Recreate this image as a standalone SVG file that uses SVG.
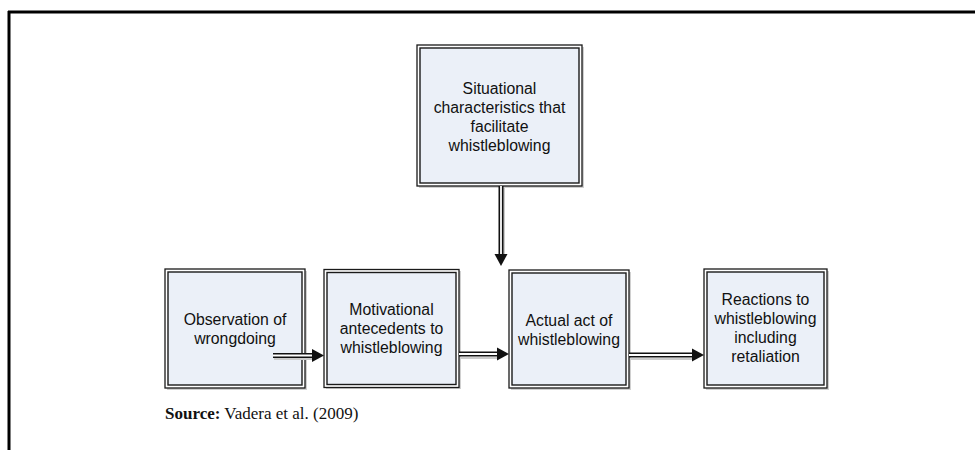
<svg xmlns="http://www.w3.org/2000/svg" width="975" height="450" viewBox="0 0 975 450">
<style>
.o{fill:#fff;stroke:#1a1a1a;stroke-width:1.3}
.i{fill:#ebf0f8;stroke:#1a1a1a;stroke-width:1.4}
.sh{fill:#d0d0d0}
.t{font-family:"Liberation Sans",Arial,sans-serif;font-size:15.8px;fill:#111;text-anchor:middle}
.dl{fill:none;stroke:#111;stroke-width:5}
.dw{fill:none;stroke:#fff;stroke-width:1.8}
.ds{fill:none;stroke:#ccc;stroke-width:2}
.ah{fill:#111}
.src{font-family:"Liberation Serif","Times New Roman",serif;font-size:17px;fill:#111}
</style>
<rect width="975" height="450" fill="#fff"/>
<g id="frame">
<line x1="8" y1="12" x2="975" y2="12" stroke="#000" stroke-width="3"/>
<line x1="9" y1="11" x2="9" y2="450" stroke="#000" stroke-width="3"/>
</g>
<g id="situational">
<rect class="sh" x="419" y="47" width="165" height="141"/>
<rect class="o" x="417" y="45" width="165" height="141"/>
<rect class="i" x="420" y="48" width="159" height="135"/>
<text class="t" x="499.5" y="93.5">Situational</text>
<text class="t" x="499.5" y="112.5">characteristics that</text>
<text class="t" x="499.5" y="131.5">facilitate</text>
<text class="t" x="499.5" y="150.5">whistleblowing</text>
</g>
<g id="observation">
<rect class="sh" x="167" y="271" width="140" height="119"/>
<rect class="o" x="165" y="269" width="140" height="119"/>
<rect class="i" x="168" y="272" width="134" height="113"/>
<text class="t" x="235" y="325">Observation of</text>
<text class="t" x="235" y="344">wrongdoing</text>
</g>
<g id="motivational">
<rect class="sh" x="326" y="271" width="135" height="118"/>
<rect class="o" x="324" y="269.5" width="135" height="118"/>
<rect class="i" x="327" y="272.5" width="129" height="112"/>
<text class="t" x="391.5" y="314.5">Motivational</text>
<text class="t" x="391.5" y="333.5">antecedents to</text>
<text class="t" x="391.5" y="352.5">whistleblowing</text>
</g>
<g id="actual">
<rect class="sh" x="511" y="272" width="120" height="118"/>
<rect class="o" x="509" y="270" width="120" height="118"/>
<rect class="i" x="512" y="273" width="114" height="112"/>
<text class="t" x="569" y="326">Actual act of</text>
<text class="t" x="569" y="345">whistleblowing</text>
</g>
<g id="reactions">
<rect class="sh" x="706" y="271" width="123" height="119"/>
<rect class="o" x="704" y="269" width="123" height="119"/>
<rect class="i" x="707" y="272" width="117" height="113"/>
<text class="t" x="765.5" y="305">Reactions to</text>
<text class="t" x="765.5" y="324">whistleblowing</text>
<text class="t" x="765.5" y="343">including</text>
<text class="t" x="765.5" y="362">retaliation</text>
</g>
<g id="connectors">
<path class="ds" d="M274 359 H314"/>
<path class="dl" d="M273 355.5 H314"/>
<path class="dw" d="M273 355.5 H314"/>
<polygon class="ah" points="312,349 324,355.5 312,362"/>
<path class="ds" d="M461 358 H499"/>
<path class="dl" d="M459 354 H499"/>
<path class="dw" d="M459 354 H499"/>
<polygon class="ah" points="497,347.5 509,354 497,360.5"/>
<path class="ds" d="M631 359 H694"/>
<path class="dl" d="M629 355 H694"/>
<path class="dw" d="M629 355 H694"/>
<polygon class="ah" points="692,348.5 704,355 692,361.5"/>
<path class="ds" d="M504 188 V256"/>
<path class="dl" d="M501 186 V256"/>
<path class="dw" d="M501 186 V256"/>
<polygon class="ah" points="494.5,254 507.5,254 501,266"/>
</g>
<text class="src" x="165" y="419"><tspan font-weight="bold">Source:</tspan> Vadera et al. (2009)</text>
</svg>
